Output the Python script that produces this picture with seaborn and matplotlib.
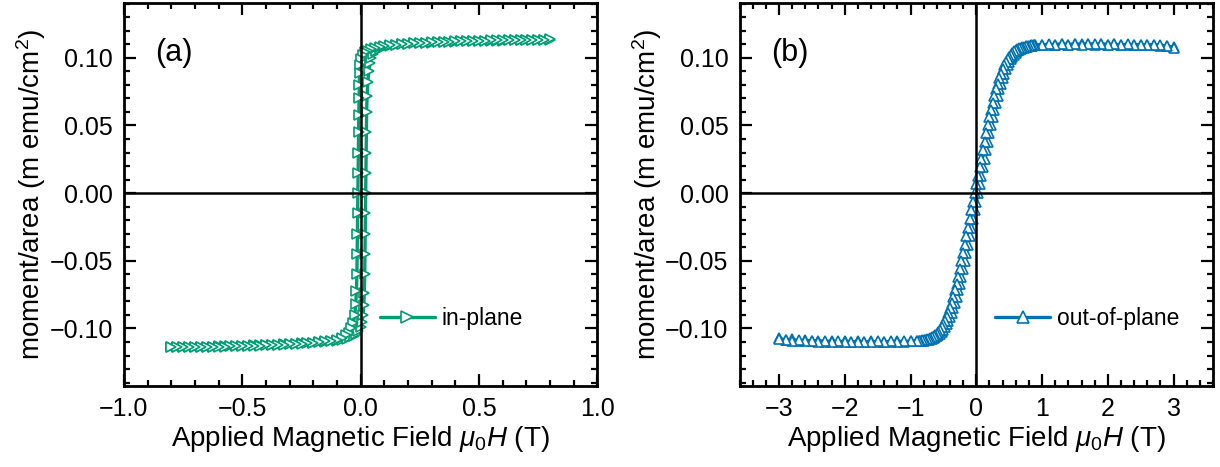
# Third party modules
import matplotlib.pyplot as plt
import pandas as pd
import seaborn as sns
from matplotlib.ticker import MultipleLocator

# (a) in-plane loop: field in T, moment/area in m emu/cm^2
field_ip_up = [
    -0.800, -0.775, -0.750, -0.725, -0.700, -0.675, -0.650, -0.625, -0.600, -0.575,
    -0.550, -0.525, -0.500, -0.475, -0.450, -0.425, -0.400, -0.375, -0.350, -0.325,
    -0.300, -0.275, -0.250, -0.225, -0.200, -0.175, -0.150, -0.125, -0.100,
    -0.080, -0.060, -0.045, -0.030, -0.020, -0.010, 0.000, 0.006, 0.010, 0.013,
    0.015, 0.017, 0.018, 0.019, 0.020, 0.021, 0.022, 0.023, 0.024, 0.025,
    0.027, 0.030, 0.034, 0.039, 0.045, 0.053, 0.063, 0.080, 0.100,
    0.125, 0.150, 0.175, 0.200, 0.225, 0.250, 0.275, 0.300, 0.325, 0.350,
    0.375, 0.400, 0.425, 0.450, 0.475, 0.500, 0.525, 0.550, 0.575, 0.600,
    0.625, 0.650, 0.675, 0.700, 0.725, 0.750, 0.775, 0.800,
]
moment_ip_up = [
    -0.1138, -0.1137, -0.1137, -0.1136, -0.1135, -0.1135, -0.1134, -0.1133, -0.1132, -0.1131,
    -0.1130, -0.1129, -0.1128, -0.1127, -0.1125, -0.1124, -0.1122, -0.1121, -0.1119, -0.1117,
    -0.1115, -0.1113, -0.1110, -0.1108, -0.1105, -0.1102, -0.1098, -0.1094, -0.1089,
    -0.1083, -0.1075, -0.1066, -0.1053, -0.1040, -0.1020, -0.0990, -0.0950, -0.0900, -0.0830,
    -0.0740, -0.0600, -0.0450, -0.0300, -0.0150, 0.0000, 0.0150, 0.0300, 0.0450, 0.0600,
    0.0720, 0.0820, 0.0900, 0.0960, 0.1000, 0.1030, 0.1050, 0.1068, 0.1080,
    0.1088, 0.1094, 0.1099, 0.1103, 0.1106, 0.1109, 0.1111, 0.1113, 0.1115, 0.1117,
    0.1118, 0.1120, 0.1121, 0.1122, 0.1123, 0.1124, 0.1125, 0.1126, 0.1127, 0.1127,
    0.1128, 0.1129, 0.1130, 0.1130, 0.1131, 0.1132, 0.1133, 0.1134,
]
field_ip_down = [
    0.800, 0.775, 0.750, 0.725, 0.700, 0.675, 0.650, 0.625, 0.600, 0.575,
    0.550, 0.525, 0.500, 0.475, 0.450, 0.425, 0.400, 0.375, 0.350, 0.325,
    0.300, 0.275, 0.250, 0.225, 0.200, 0.175, 0.150, 0.125, 0.100,
    0.080, 0.060, 0.045, 0.030, 0.020, 0.010, 0.000, -0.003, -0.005, -0.006,
    -0.007, -0.008, -0.009, -0.010, -0.011, -0.012, -0.013, -0.014, -0.015, -0.016,
    -0.018, -0.021, -0.025, -0.031, -0.040, -0.050, -0.062, -0.080, -0.100,
    -0.125, -0.150, -0.175, -0.200, -0.225, -0.250, -0.275, -0.300, -0.325, -0.350,
    -0.375, -0.400, -0.425, -0.450, -0.475, -0.500, -0.525, -0.550, -0.575, -0.600,
    -0.625, -0.650, -0.675, -0.700, -0.725, -0.750, -0.775, -0.800,
]
moment_ip_down = [
    0.1136, 0.1135, 0.1135, 0.1134, 0.1133, 0.1133, 0.1132, 0.1131, 0.1130, 0.1129,
    0.1128, 0.1127, 0.1126, 0.1125, 0.1124, 0.1122, 0.1121, 0.1119, 0.1118, 0.1116,
    0.1114, 0.1112, 0.1110, 0.1107, 0.1104, 0.1101, 0.1097, 0.1093, 0.1088,
    0.1082, 0.1074, 0.1065, 0.1052, 0.1040, 0.1020, 0.0990, 0.0950, 0.0890, 0.0800,
    0.0700, 0.0580, 0.0450, 0.0300, 0.0150, 0.0000, -0.0150, -0.0300, -0.0450, -0.0600,
    -0.0720, -0.0820, -0.0900, -0.0960, -0.1000, -0.1030, -0.1050, -0.1068, -0.1082,
    -0.1090, -0.1096, -0.1101, -0.1105, -0.1109, -0.1112, -0.1115, -0.1117, -0.1119, -0.1121,
    -0.1123, -0.1125, -0.1126, -0.1128, -0.1129, -0.1130, -0.1131, -0.1132, -0.1133, -0.1134,
    -0.1135, -0.1136, -0.1136, -0.1137, -0.1138, -0.1138, -0.1139, -0.1140,
]

# (b) out-of-plane loop, both branches share one field grid (-3 T .. 3 T)
field_oop = [
    -3.0, -2.9, -2.8, -2.7, -2.6, -2.5, -2.4, -2.3, -2.2, -2.1,
    -2.0, -1.9, -1.8, -1.7, -1.6, -1.5, -1.4, -1.3, -1.2, -1.1, -1.0,
    -0.900, -0.875, -0.850, -0.825, -0.800, -0.775, -0.750, -0.725, -0.700, -0.675,
    -0.650, -0.625, -0.600, -0.575, -0.550, -0.525, -0.500, -0.475, -0.450, -0.425,
    -0.400, -0.375, -0.350, -0.325, -0.300, -0.275, -0.250, -0.225, -0.200, -0.175,
    -0.150, -0.125, -0.100, -0.075, -0.050, -0.025, 0.000, 0.025, 0.050, 0.075,
    0.100, 0.125, 0.150, 0.175, 0.200, 0.225, 0.250, 0.275, 0.300, 0.325,
    0.350, 0.375, 0.400, 0.425, 0.450, 0.475, 0.500, 0.525, 0.550, 0.575,
    0.600, 0.625, 0.650, 0.675, 0.700, 0.725, 0.750, 0.775, 0.800, 0.825,
    0.850, 0.875, 0.900,
    1.0, 1.1, 1.2, 1.3, 1.4, 1.5, 1.6, 1.7, 1.8, 1.9,
    2.0, 2.1, 2.2, 2.3, 2.4, 2.5, 2.6, 2.7, 2.8, 2.9, 3.0,
]
moment_oop_up = [
    -0.1072, -0.1085, -0.1080, -0.1092, -0.1088, -0.1096, -0.1090, -0.1098, -0.1092, -0.1099,
    -0.1094, -0.1100, -0.1095, -0.1099, -0.1096, -0.1100, -0.1097, -0.1099, -0.1096, -0.1098, -0.1096,
    -0.1094, -0.1093, -0.1092, -0.1091, -0.1090, -0.1088, -0.1086, -0.1083, -0.1080, -0.1076,
    -0.1071, -0.1065, -0.1057, -0.1048, -0.1037, -0.1024, -0.1009, -0.0991, -0.0970, -0.0945,
    -0.0916, -0.0884, -0.0848, -0.0809, -0.0766, -0.0719, -0.0669, -0.0616, -0.0560, -0.0502,
    -0.0442, -0.0381, -0.0319, -0.0256, -0.0192, -0.0128, -0.0064, 0.0000, 0.0064, 0.0128,
    0.0192, 0.0256, 0.0319, 0.0381, 0.0442, 0.0502, 0.0560, 0.0616, 0.0669, 0.0719,
    0.0766, 0.0809, 0.0848, 0.0884, 0.0916, 0.0945, 0.0970, 0.0991, 0.1009, 0.1024,
    0.1037, 0.1048, 0.1057, 0.1065, 0.1071, 0.1076, 0.1080, 0.1083, 0.1086, 0.1088,
    0.1090, 0.1091, 0.1092,
    0.1094, 0.1096, 0.1098, 0.1100, 0.1097, 0.1101, 0.1099, 0.1102, 0.1098, 0.1100,
    0.1097, 0.1099, 0.1095, 0.1098, 0.1094, 0.1096, 0.1092, 0.1094, 0.1090, 0.1088, 0.1078,
]
moment_oop_down = [
    -0.1078, -0.1086, -0.1091, -0.1088, -0.1094, -0.1091, -0.1097, -0.1094, -0.1099, -0.1096,
    -0.1100, -0.1097, -0.1101, -0.1098, -0.1100, -0.1096, -0.1099, -0.1095, -0.1098, -0.1094, -0.1095,
    -0.1092, -0.1091, -0.1090, -0.1088, -0.1086, -0.1083, -0.1080, -0.1076, -0.1071, -0.1065,
    -0.1057, -0.1048, -0.1037, -0.1024, -0.1009, -0.0991, -0.0970, -0.0945, -0.0916, -0.0884,
    -0.0848, -0.0809, -0.0766, -0.0719, -0.0669, -0.0616, -0.0560, -0.0502, -0.0442, -0.0381,
    -0.0319, -0.0256, -0.0192, -0.0128, -0.0064, 0.0000, 0.0064, 0.0128, 0.0192, 0.0256,
    0.0319, 0.0381, 0.0442, 0.0502, 0.0560, 0.0616, 0.0669, 0.0719, 0.0766, 0.0809,
    0.0848, 0.0884, 0.0916, 0.0945, 0.0970, 0.0991, 0.1009, 0.1024, 0.1037, 0.1048,
    0.1057, 0.1065, 0.1071, 0.1076, 0.1080, 0.1083, 0.1086, 0.1088, 0.1090, 0.1091,
    0.1092, 0.1093, 0.1094,
    0.1096, 0.1099, 0.1097, 0.1101, 0.1098, 0.1100, 0.1097, 0.1101, 0.1099, 0.1102,
    0.1098, 0.1100, 0.1096, 0.1099, 0.1095, 0.1097, 0.1093, 0.1095, 0.1091, 0.1086, 0.1072,
]

GREEN = "#009E73"
BLUE = "#0173B2"


def loop_frame(field_up, moment_up, field_down, moment_down):
    """Join the two branches into one closed loop, in measurement order"""
    return pd.DataFrame(
        {
            "field": list(field_up) + list(field_down),
            "moment": list(moment_up) + list(moment_down),
        }
    )


def style_axis(ax, xmajor, xminor):
    ax.xaxis.set_major_locator(MultipleLocator(xmajor))
    ax.xaxis.set_minor_locator(MultipleLocator(xminor))
    ax.yaxis.set_major_locator(MultipleLocator(0.05))
    ax.yaxis.set_minor_locator(MultipleLocator(0.01))
    ax.set_ylim(-0.1425, 0.1405)
    ax.tick_params(which="both", direction="in", top=True, right=True,
                   width=1.6, labelsize=18, colors="black")
    ax.tick_params(which="major", length=8.5, pad=8)
    ax.tick_params(which="minor", length=4.3)
    for spine in ax.spines.values():
        spine.set_linewidth(2.0)
        spine.set_color("black")
    ax.axhline(0, color="black", lw=1.8, zorder=5)
    ax.axvline(0, color="black", lw=1.8, zorder=5)
    ax.set_xlabel(r"Applied Magnetic Field $\mu_0H$ (T)", fontsize=20, labelpad=2,
                  color="black")
    ax.set_ylabel(r"moment/area (m emu/cm$^2$)", fontsize=20, labelpad=1,
                  color="black")


def main():
    sns.set_theme(style="ticks")
    plt.rcParams["font.family"] = ["Liberation Sans", "DejaVu Sans"]
    plt.rcParams["mathtext.fontset"] = "custom"
    plt.rcParams["mathtext.rm"] = "Liberation Sans"
    plt.rcParams["mathtext.it"] = "Liberation Sans:italic"
    plt.rcParams["text.color"] = "black"

    fig, (ax1, ax2) = plt.subplots(1, 2, figsize=(12.2, 4.67), dpi=100)
    fig.subplots_adjust(left=0.1016, right=0.9943, bottom=0.1734, top=0.9936, wspace=0.30)

    in_plane = loop_frame(field_ip_up, moment_ip_up, field_ip_down, moment_ip_down)
    out_plane = loop_frame(field_oop, moment_oop_up, field_oop[::-1], moment_oop_down[::-1])

    marker_kw = dict(markersize=6.5, markeredgewidth=1.2, markerfacecolor="white",
                     linewidth=2.4)
    sns.lineplot(data=in_plane, x="field", y="moment", sort=False, estimator=None,
                 ax=ax1, color=GREEN, marker=">", markeredgecolor=GREEN,
                 label="in-plane", **marker_kw)
    sns.lineplot(data=out_plane, x="field", y="moment", sort=False, estimator=None,
                 ax=ax2, color=BLUE, marker="^", markeredgecolor=BLUE,
                 label="out-of-plane", **marker_kw)

    ax1.set_xlim(-1.0, 1.0)
    ax2.set_xlim(-3.6, 3.6)
    style_axis(ax1, 0.5, 0.1)
    style_axis(ax2, 1, 0.2)

    for ax, tag in ((ax1, "(a)"), (ax2, "(b)")):
        ax.text(0.066, 0.87, tag, transform=ax.transAxes, fontsize=22,
                ha="left", va="center", color="black")
        leg = ax.legend(loc="center left", bbox_to_anchor=(0.54, 0.175), frameon=False,
                        fontsize=16.5, handlelength=2.4, handletextpad=0.3,
                        borderaxespad=0, borderpad=0, markerscale=1.3)
        for txt in leg.get_texts():
            txt.set_color("black")

    plt.savefig("out.png", dpi=100)


if __name__ == "__main__":
    main()
